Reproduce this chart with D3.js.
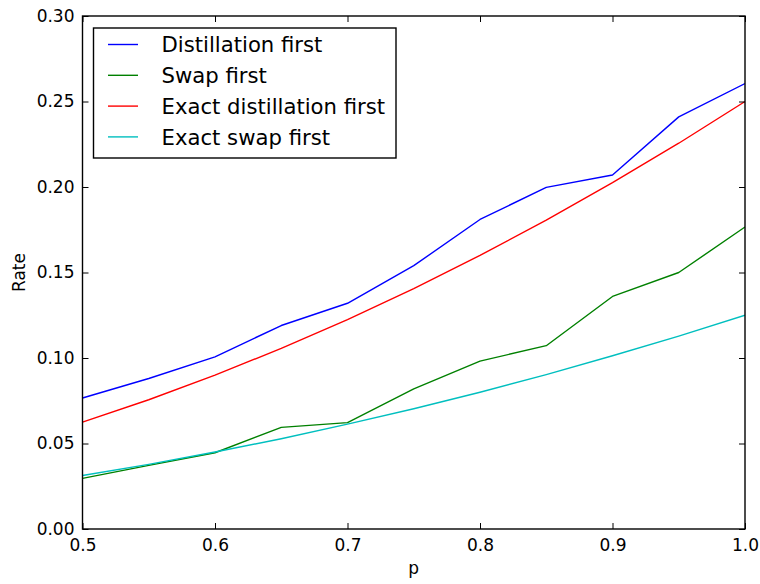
<!DOCTYPE html>
<html>
<head>
<meta charset="utf-8">
<script src="https://cdn.jsdelivr.net/npm/d3@7"></script>
<style>
  html, body { margin: 0; padding: 0; background: #fff; }
  svg { display: block; font-family: "DejaVu Sans", sans-serif; }
</style>
</head>
<body>
<svg id="chart" width="760" height="584"></svg>
<script>
const pValues = [0.5, 0.55, 0.6, 0.65, 0.7, 0.75, 0.8, 0.85, 0.9, 0.95, 1.0];
const distillationFirst = [0.0766, 0.0880, 0.1007, 0.1190, 0.1320, 0.1540, 0.1810, 0.1998, 0.2070, 0.2410, 0.2605];
const swapFirst = [0.0296, 0.0372, 0.0446, 0.0594, 0.0622, 0.0820, 0.0982, 0.1072, 0.1360, 0.1500, 0.1766];
const exactDistillationFirst = [0.0625, 0.0756, 0.0900, 0.1056, 0.1225, 0.1406, 0.1600, 0.1806, 0.2025, 0.2256, 0.2500];
const exactSwapFirst = [0.0313, 0.0378, 0.0450, 0.0528, 0.0613, 0.0703, 0.0800, 0.0903, 0.1013, 0.1128, 0.1250];
const seriesNames = ["Distillation first", "Swap first", "Exact distillation first", "Exact swap first"];
const seriesColors = ["#0000ff", "#008000", "#ff0000", "#00bfbf"];
const xTicks = [0.5, 0.6, 0.7, 0.8, 0.9, 1.0];
const yTicks = [0.00, 0.05, 0.10, 0.15, 0.20, 0.25, 0.30];

const seriesData = [distillationFirst, swapFirst, exactDistillationFirst, exactSwapFirst];

(function () {
const svg = d3.select("#chart");
const mLeft = 82.5, mRight = 745, mTop = 16, mBottom = 529;

const x = d3.scaleLinear().domain([0.5, 1.0]).range([mLeft, mRight]);
const y = d3.scaleLinear().domain([0, 0.3]).range([mBottom, mTop]);

const line = d3.line().x((d, i) => x(pValues[i])).y(d => y(d));
svg.append("defs").append("clipPath").attr("id", "plotclip")
  .append("rect").attr("x", mLeft).attr("y", mTop).attr("width", mRight - mLeft).attr("height", mBottom - mTop);

const linesG = svg.append("g").attr("clip-path", "url(#plotclip)");
seriesData.forEach((s, k) => {
  linesG.append("path")
    .datum(s)
    .attr("d", line)
    .attr("fill", "none")
    .attr("stroke", seriesColors[k])
    .attr("stroke-width", 1.4)
    .attr("stroke-linejoin", "round");
});

const tickLen = 6;
const fmtX = d3.format(".1f");
const fmtY = d3.format(".2f");

const axBottom = svg.append("g").attr("transform", `translate(0,${mBottom})`)
  .call(d3.axisBottom(x).tickValues(xTicks).tickFormat(fmtX).tickSizeInner(-tickLen).tickSizeOuter(0).tickPadding(10));
const axTop = svg.append("g").attr("transform", `translate(0,${mTop})`)
  .call(d3.axisTop(x).tickValues(xTicks).tickFormat("").tickSizeInner(-tickLen).tickSizeOuter(0));
const axLeft = svg.append("g").attr("transform", `translate(${mLeft},0)`)
  .call(d3.axisLeft(y).tickValues(yTicks).tickFormat(fmtY).tickSizeInner(-tickLen).tickSizeOuter(0).tickPadding(8));
const axRight = svg.append("g").attr("transform", `translate(${mRight},0)`)
  .call(d3.axisRight(y).tickValues(yTicks).tickFormat("").tickSizeInner(-tickLen).tickSizeOuter(0));

[axBottom, axTop, axLeft, axRight].forEach(a => {
  a.select(".domain").remove();
  a.selectAll(".tick line").attr("stroke", "#000").attr("stroke-width", 1);
  a.selectAll(".tick text").attr("fill", "#000").attr("font-size", 17).attr("font-family", "DejaVu Sans");
});
axBottom.selectAll(".tick text").attr("dy", "0.71em");

svg.append("rect")
  .attr("x", mLeft).attr("y", mTop).attr("width", mRight - mLeft).attr("height", mBottom - mTop)
  .attr("fill", "none").attr("stroke", "#000").attr("stroke-width", 1.4);

svg.append("text")
  .attr("x", (mLeft + mRight) / 2).attr("y", 574)
  .attr("text-anchor", "middle").attr("font-size", 17).attr("fill", "#000")
  .text("p");
svg.append("text")
  .attr("transform", `translate(25,${(mTop + mBottom) / 2}) rotate(-90)`)
  .attr("text-anchor", "middle").attr("font-size", 17).attr("fill", "#000")
  .text("Rate");

const lg = svg.append("g");
lg.append("rect")
  .attr("x", 93.5).attr("y", 28).attr("width", 302.5).attr("height", 130)
  .attr("fill", "#fff").attr("stroke", "#000").attr("stroke-width", 1.4);
seriesNames.forEach((name, k) => {
  const yy = 44.5 + k * 30.8;
  lg.append("line")
    .attr("x1", 108).attr("x2", 138).attr("y1", yy).attr("y2", yy)
    .attr("stroke", seriesColors[k]).attr("stroke-width", 1.4);
  lg.append("text")
    .attr("x", 161.5).attr("y", yy).attr("dy", "0.36em")
    .attr("font-size", 21.2).attr("fill", "#000")
    .text(name);
});
})();
</script>
</body>
</html>
